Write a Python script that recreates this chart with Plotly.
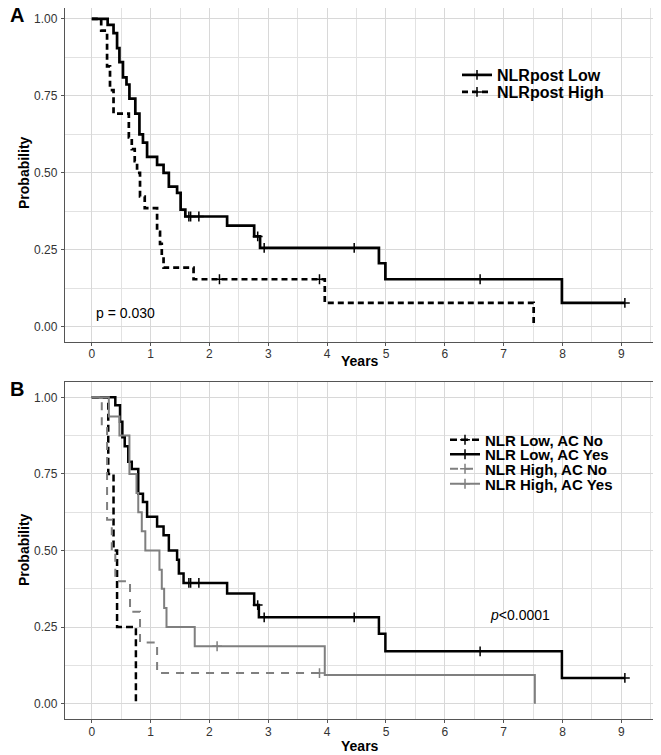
import plotly.graph_objects as go

# ---------------- Panel A data ----------------
a_low_time = [0, 0.27, 0.37, 0.43, 0.47, 0.53, 0.59, 0.64, 0.74, 0.81, 0.87, 0.94, 1.11, 1.22, 1.31,
              1.45, 1.51, 1.59, 2.30, 2.76, 2.86, 4.88, 4.99, 7.99, 9.06]
a_low_surv = [1.0, 0.981, 0.954, 0.905, 0.86, 0.81, 0.787, 0.741, 0.692, 0.625, 0.598, 0.552, 0.526, 0.50, 0.455,
              0.435, 0.38, 0.358, 0.328, 0.293, 0.256, 0.206, 0.154, 0.077, 0.077]
a_low_cens_time = [1.65, 1.68, 1.82, 2.82, 2.93, 4.46, 6.60, 9.06]
a_low_cens_surv = [0.358, 0.358, 0.358, 0.293, 0.256, 0.256, 0.154, 0.077]

a_high_time = [0, 0.16, 0.26, 0.31, 0.37, 0.63, 0.68, 0.73, 0.77, 0.82, 0.90, 1.11, 1.16, 1.19, 1.22, 1.73, 3.96, 7.51]
a_high_surv = [1.0, 0.962, 0.846, 0.769, 0.692, 0.615, 0.577, 0.538, 0.50, 0.423, 0.385, 0.308, 0.269, 0.231, 0.192,
               0.154, 0.077, 0.0]
a_high_cens_time = [2.17, 3.87]
a_high_cens_surv = [0.154, 0.154]

# ---------------- Panel B data ----------------
b_low_no_time = [0, 0.28, 0.37, 0.43, 0.75]
b_low_no_surv = [1.0, 0.75, 0.50, 0.25, 0.0]
b_low_no_cens_time = []
b_low_no_cens_surv = []

b_low_yes_time = [0, 0.40, 0.48, 0.52, 0.56, 0.62, 0.68, 0.79, 0.87, 0.94, 1.11, 1.22, 1.31, 1.45, 1.48, 1.56,
                  2.30, 2.76, 2.84, 4.88, 4.99, 7.99, 9.06]
b_low_yes_surv = [1.0, 0.974, 0.92, 0.87, 0.84, 0.79, 0.766, 0.685, 0.658, 0.61, 0.578, 0.55, 0.50, 0.47, 0.425,
                  0.394, 0.36, 0.322, 0.282, 0.228, 0.171, 0.084, 0.084]
b_low_yes_cens_time = [1.65, 1.68, 1.82, 2.82, 2.93, 4.46, 6.60, 9.06]
b_low_yes_cens_surv = [0.394, 0.394, 0.394, 0.322, 0.282, 0.282, 0.171, 0.084]

b_high_no_time = [0, 0.17, 0.26, 0.34, 0.40, 0.65, 0.82, 1.11, 3.87]
b_high_no_surv = [1.0, 0.9, 0.6, 0.5, 0.4, 0.3, 0.2, 0.1, 0.1]
b_high_no_cens_time = [3.87]
b_high_no_cens_surv = [0.1]

b_high_yes_time = [0, 0.29, 0.47, 0.64, 0.76, 0.79, 0.85, 0.91, 1.15, 1.19, 1.23, 1.27, 1.75, 3.96, 7.53]
b_high_yes_surv = [1.0, 0.9375, 0.875, 0.75, 0.6875, 0.625, 0.5625, 0.5, 0.4375, 0.375, 0.3125, 0.25, 0.1875,
                   0.09375, 0.0]
b_high_yes_cens_time = [2.13]
b_high_yes_cens_surv = [0.1875]

x_ticks = [0, 1, 2, 3, 4, 5, 6, 7, 8, 9]
y_ticks = [0.0, 0.25, 0.5, 0.75, 1.0]

FONT = "Arial, Liberation Sans, sans-serif"
BLACK = "#000000"
GREY = "#7F7F7F"
W, H = 661, 755
OFF = 8  # page body margin offset


def sx(px):
    return (px - OFF) / W


def sy(py):
    return 1 - (py - OFF) / H


fig = go.Figure()


def interleave(t, s):
    xs, ys = [], []
    for a, b in zip(t, s):
        xs += [a, None]
        ys += [b, None]
    if not xs:
        xs, ys = [None], [None]
    return xs, ys


def add_group(name, t, s, ct, cs, color, width, dash, xa, ya, legend):
    fig.add_trace(go.Scatter(x=t, y=s, mode="lines", line=dict(color=color, width=width, dash=dash, shape="hv"),
                             xaxis=xa, yaxis=ya, showlegend=False, hoverinfo="skip"))
    xs, ys = interleave(ct, cs)
    fig.add_trace(go.Scatter(x=xs, y=ys, mode="lines+markers", name=name, connectgaps=False,
                             line=dict(color=color, width=width, dash=dash),
                             marker=dict(symbol="cross-thin", size=7, line=dict(color=color, width=1.5)),
                             xaxis=xa, yaxis=ya, legend=legend, showlegend=True))


add_group("NLRpost Low", a_low_time, a_low_surv, a_low_cens_time, a_low_cens_surv, BLACK, 2.7, "solid", "x", "y", "legend")
add_group("NLRpost High", a_high_time, a_high_surv, a_high_cens_time, a_high_cens_surv, BLACK, 2.7, "6px,4px", "x", "y", "legend2")

add_group("NLR Low, AC No", b_low_no_time, b_low_no_surv, b_low_no_cens_time, b_low_no_cens_surv, BLACK, 2.5, "7px,4px", "x2", "y2", "legend3")
add_group("NLR Low, AC Yes", b_low_yes_time, b_low_yes_surv, b_low_yes_cens_time, b_low_yes_cens_surv, BLACK, 2.5, "solid", "x2", "y2", "legend4")
add_group("NLR High, AC No", b_high_no_time, b_high_no_surv, b_high_no_cens_time, b_high_no_cens_surv, GREY, 2.0, "8px,7px", "x2", "y2", "legend5")
add_group("NLR High, AC Yes", b_high_yes_time, b_high_yes_surv, b_high_yes_cens_time, b_high_yes_cens_surv, GREY, 2.0, "solid", "x2", "y2", "legend6")

xdom = [sx(65), sx(654)]
ydomA = [sy(342), 1.0]
ydomB = [sy(719), sy(382)]
# reference: y=1.00 at 19 px, y=0.00 at 327.7 px in panel A -> top at 8 px
yA_top = 1.0 + (19 - OFF) / 308.7

axis_common = dict(showline=True, mirror=True, linecolor="#555555", linewidth=1.3,
                   showgrid=True, gridcolor="#D8D8D8", gridwidth=1, zeroline=False, automargin=False,
                   ticks="outside", ticklen=3, tickcolor="#555555", tickwidth=1,
                   tickfont=dict(family=FONT, size=12, color="#333333"))

xax = dict(axis_common, range=[-0.455, 9.555], tickvals=x_ticks, domain=xdom,
           minor=dict(tick0=0, dtick=0.5, showgrid=True, gridcolor="#E2E2E2", gridwidth=0.8))
yax = dict(axis_common, tickvals=y_ticks, tickformat=".2f", ticklabelstandoff=1,
           minor=dict(tick0=0, dtick=0.125, showgrid=True, gridcolor="#E2E2E2", gridwidth=0.8))


def leg(xpx, ypx, size):
    return dict(x=sx(xpx), y=sy(ypx), xanchor="left", yanchor="middle", bgcolor="rgba(0,0,0,0)",
                font=dict(family=FONT, size=size, color="black", weight="bold"), itemwidth=30)


title_font = dict(family=FONT, size=14, color="black")

fig.update_layout(
    width=W, height=H, margin=dict(l=0, r=0, t=0, b=0, autoexpand=False),
    paper_bgcolor="white", plot_bgcolor="white",
    font=dict(family=FONT, color="black"),
    xaxis=dict(xax, anchor="y", ticklabelstandoff=-3),
    yaxis=dict(yax, domain=ydomA, anchor="x", range=[-0.05, yA_top]),
    xaxis2=dict(xax, anchor="y2", ticklabelstandoff=-2),
    yaxis2=dict(yax, domain=ydomB, anchor="x2", range=[-0.05, 1.05]),
    legend=leg(457, 75, 16),
    legend2=leg(457, 92, 16),
    legend3=leg(445, 440, 15),
    legend4=leg(445, 454.5, 15),
    legend5=leg(445, 469, 15),
    legend6=leg(445, 484, 15),
    shapes=[
        dict(type="rect", xref="paper", yref="paper", x0=sx(470), x1=sx(606), y0=sy(57), y1=sy(101),
             fillcolor="white", line=dict(width=0), layer="between"),
        dict(type="rect", xref="paper", yref="paper", x0=sx(458), x1=sx(618), y0=sy(428), y1=sy(495),
             fillcolor="white", line=dict(width=0), layer="between"),
    ],
    annotations=[
        dict(text="<b>A</b>", x=sx(8), y=sy(15), xref="paper", yref="paper", xanchor="left", yanchor="middle",
             showarrow=False, font=dict(family=FONT, size=20, color="black")),
        dict(text="<b>B</b>", x=sx(8), y=sy(389), xref="paper", yref="paper", xanchor="left", yanchor="middle",
             showarrow=False, font=dict(family=FONT, size=20, color="black")),
        dict(text="<b>Years</b>", x=sx(360), y=sy(361), xref="paper", yref="paper", xanchor="center",
             yanchor="middle", showarrow=False, font=title_font),
        dict(text="<b>Years</b>", x=sx(360), y=sy(746), xref="paper", yref="paper", xanchor="center",
             yanchor="middle", showarrow=False, font=title_font),
        dict(text="<b>Probability</b>", x=sx(24), y=sy(173), xref="paper", yref="paper", xanchor="center",
             yanchor="middle", textangle=-90, showarrow=False, font=title_font),
        dict(text="<b>Probability</b>", x=sx(24), y=sy(550), xref="paper", yref="paper", xanchor="center",
             yanchor="middle", textangle=-90, showarrow=False, font=title_font),
        dict(text="p = 0.030", x=0.58, y=0.045, xref="x", yref="y", xanchor="center", yanchor="middle",
             showarrow=False, font=dict(family=FONT, size=14, color="black")),
        dict(text="<i>p</i><0.0001", x=7.28, y=0.29, xref="x2", yref="y2", xanchor="center", yanchor="middle",
             showarrow=False, font=dict(family=FONT, size=14, color="black")),
    ],
)

fig.write_html("out.html")
